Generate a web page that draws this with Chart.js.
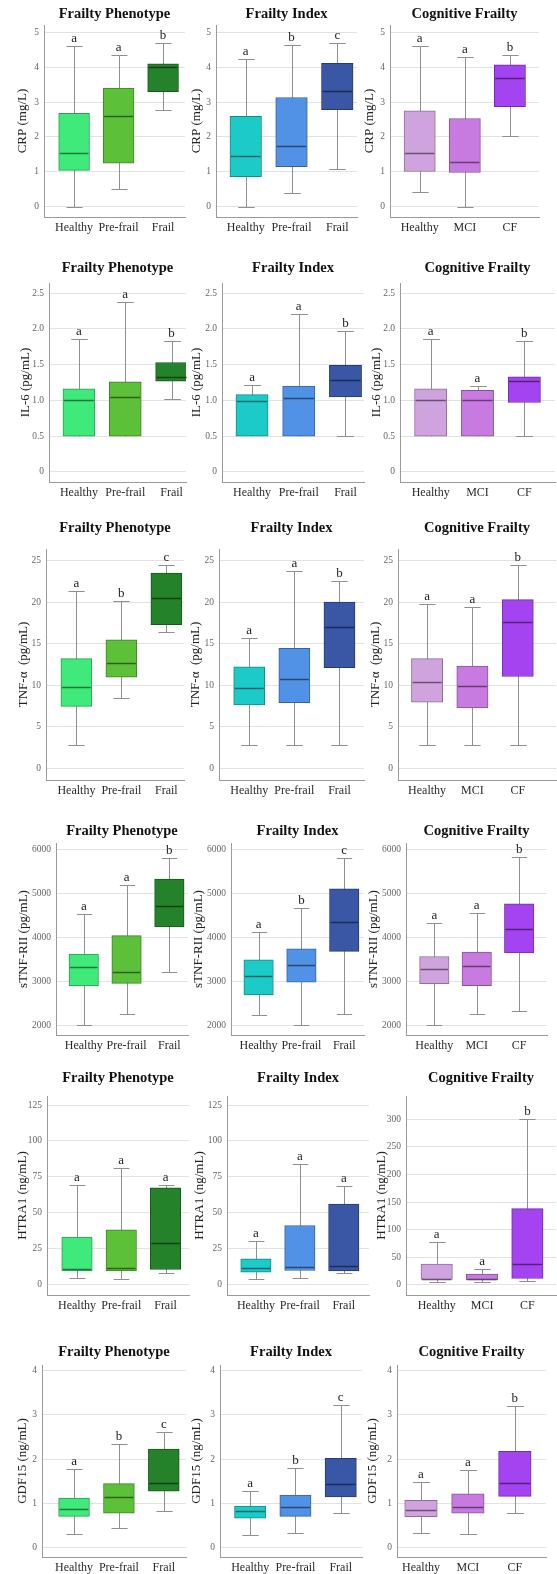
<!DOCTYPE html>
<html>
<head>
<meta charset="utf-8">
<script src="https://cdn.jsdelivr.net/npm/chart.js@4.4.1/dist/chart.umd.min.js"></script>
<style>
  html, body { margin: 0; padding: 0; background: #fff; }
  #page { position: relative; width: 557px; height: 1574px; overflow: hidden; }
  #page canvas { position: absolute; }
</style>
</head>
<body>
<div id="page"></div>
<script>
// categories and panel titles
const FP_CATS = ['Healthy', 'Pre-frail', 'Frail'];
const FI_CATS = ['Healthy', 'Pre-frail', 'Frail'];
const CF_CATS = ['Healthy', 'MCI', 'CF'];
const TITLES = ['Frailty Phenotype', 'Frailty Index', 'Cognitive Frailty'];

// box stats per group: [min, Q1, median, Q3, max]
const CRP_FP = [[0, 1.04, 1.54, 2.68, 4.62], [0.5, 1.25, 2.6, 3.4, 4.34], [2.77, 3.3, 4.0, 4.1, 4.69]];
const CRP_FI = [[0, 0.86, 1.44, 2.59, 4.24], [0.39, 1.15, 1.75, 3.13, 4.63], [1.08, 2.78, 3.32, 4.11, 4.7]];
const CRP_CF = [[0.41, 1.01, 1.54, 2.75, 4.62], [0, 0.98, 1.28, 2.53, 4.28], [2.02, 2.87, 3.7, 4.07, 4.34]];

const IL6_FP = [[0.5, 0.5, 1.0, 1.16, 1.86], [0.5, 0.5, 1.05, 1.26, 2.38], [1.02, 1.27, 1.33, 1.53, 1.83]];
const IL6_FI = [[0.5, 0.5, 0.985, 1.08, 1.22], [0.5, 0.5, 1.03, 1.2, 2.21], [0.5, 1.05, 1.29, 1.49, 1.97]];
const IL6_CF = [[0.5, 0.5, 1.0, 1.16, 1.86], [0.5, 0.5, 1.01, 1.14, 1.2], [0.5, 0.97, 1.27, 1.33, 1.83]];

const TNF_FP = [[2.81, 7.46, 9.83, 13.2, 21.3], [8.47, 10.96, 12.7, 15.45, 20.1], [16.4, 17.3, 20.5, 23.5, 24.5]];
const TNF_FI = [[2.81, 7.63, 9.64, 12.2, 15.7], [2.81, 7.9, 10.7, 14.45, 23.8], [2.81, 12.1, 16.95, 20.0, 22.5]];
const TNF_CF = [[2.82, 7.95, 10.4, 13.2, 19.8], [2.82, 7.26, 9.85, 12.3, 19.4], [2.82, 11.05, 17.6, 20.3, 24.45]];

const STNF_FP = [[2015, 2902, 3333, 3629, 4530], [2258, 2962, 3227, 4045, 5205], [3220, 4242, 4720, 5333, 5803]];
const STNF_FI = [[2243, 2700, 3125, 3498, 4129], [2015, 2989, 3384, 3749, 4677], [2259, 3688, 4357, 5110, 5817]];
const STNF_CF = [[2023, 2954, 3298, 3573, 4344], [2260, 2908, 3366, 3672, 4550], [2328, 3656, 4191, 4771, 5840]];

const HTRA_FP = [[4.7, 9.3, 10.7, 32.9, 69], [3.7, 9.3, 11, 38, 80.9], [7.9, 10.3, 28.5, 67.2, 69]];
const HTRA_FI = [[3.7, 8.4, 11.2, 17.7, 29.9], [4.7, 9.6, 11.7, 41, 83.7], [7.9, 9.3, 12.4, 56, 68.8]];
const HTRA_CF = [[4.9, 9.8, 11, 37.9, 78.2], [6, 9.2, 11, 19.6, 28.7], [7.3, 11.6, 38.5, 138, 301]];

const GDF_FP = [[0.3, 0.71, 0.88, 1.12, 1.77], [0.45, 0.78, 1.15, 1.45, 2.35], [0.84, 1.28, 1.47, 2.23, 2.61]];
const GDF_FI = [[0.29, 0.67, 0.82, 0.94, 1.29], [0.33, 0.71, 0.92, 1.19, 1.8], [0.78, 1.15, 1.43, 2.02, 3.22]];
const GDF_CF = [[0.34, 0.7, 0.86, 1.07, 1.49], [0.31, 0.78, 0.91, 1.22, 1.76], [0.79, 1.16, 1.47, 2.18, 3.2]];

// significance letters
const CRP_SIG = [['a', 'a', 'b'], ['a', 'b', 'c'], ['a', 'a', 'b']];
const IL6_SIG = [['a', 'a', 'b'], ['a', 'a', 'b'], ['a', 'a', 'b']];
const TNF_SIG = [['a', 'b', 'c'], ['a', 'a', 'b'], ['a', 'a', 'b']];
const STNF_SIG = [['a', 'a', 'b'], ['a', 'b', 'c'], ['a', 'a', 'b']];
const HTRA_SIG = [['a', 'a', 'a'], ['a', 'a', 'a'], ['a', 'a', 'b']];
const GDF_SIG = [['a', 'b', 'c'], ['a', 'b', 'c'], ['a', 'a', 'b']];

// tick values
const CRP_TICKS = [0, 1, 2, 3, 4, 5];
const IL6_TICKS = [0, 0.5, 1, 1.5, 2, 2.5];
const TNF_TICKS = [0, 5, 10, 15, 20, 25];
const STNF_TICKS = [2000, 3000, 4000, 5000, 6000];
const HTRA_TICKS = [0, 25, 50, 75, 100, 125];
const HTRA_CF_TICKS = [0, 50, 100, 150, 200, 250, 300];
const GDF_TICKS = [0, 1, 2, 3, 4];

// colours
const FP_COLORS = ['#3fe97a', '#5cc038', '#23822a'];
const FI_COLORS = ['#1ccbc8', '#5192e6', '#3a57a6'];
const CF_COLORS = ['#cfa3de', '#c77be0', '#a443f0'];

const plain = v => String(v);
const oneDec = v => (v === 0 ? '0' : v.toFixed(1));

const ROWS = [
  { label: 'CRP (mg/L)', sets: [CRP_FP, CRP_FI, CRP_CF], sig: CRP_SIG,
    ticks: [CRP_TICKS, CRP_TICKS, CRP_TICKS], fmt: plain,
    range: [[-0.295, 5.21], [-0.295, 5.21], [-0.295, 5.21]] },
  { label: 'IL-6 (pg/mL)', sets: [IL6_FP, IL6_FI, IL6_CF], sig: IL6_SIG,
    ticks: [IL6_TICKS, IL6_TICKS, IL6_TICKS], fmt: oneDec,
    range: [[-0.14, 2.64], [-0.14, 2.64], [-0.14, 2.64]] },
  { label: 'TNF-α  (pg/mL)', sets: [TNF_FP, TNF_FI, TNF_CF], sig: TNF_SIG,
    ticks: [TNF_TICKS, TNF_TICKS, TNF_TICKS], fmt: plain,
    range: [[-1.41, 26.4], [-1.41, 26.4], [-1.41, 26.4]] },
  { label: 'sTNF-RII (pg/mL)', sets: [STNF_FP, STNF_FI, STNF_CF], sig: STNF_SIG,
    ticks: [STNF_TICKS, STNF_TICKS, STNF_TICKS], fmt: plain,
    range: [[1788, 6152], [1788, 6152], [1788, 6152]] },
  { label: 'HTRA1 (ng/mL)', sets: [HTRA_FP, HTRA_FI, HTRA_CF], sig: HTRA_SIG,
    ticks: [HTRA_TICKS, HTRA_TICKS, HTRA_CF_TICKS], fmt: plain,
    range: [[-7.5, 131.3], [-7.5, 131.3], [-18.3, 342]] },
  { label: 'GDF15 (ng/mL)', sets: [GDF_FP, GDF_FI, GDF_CF], sig: GDF_SIG,
    ticks: [GDF_TICKS, GDF_TICKS, GDF_TICKS], fmt: plain,
    range: [[-0.21, 4.13], [-0.21, 4.13], [-0.21, 4.13]] }
];

// layout: [title centre y, plot top, plot bottom] per row
const ROW_Y = [
  [15, 25, 217],
  [269, 283, 482],
  [529, 549, 780],
  [832, 843, 1035],
  [1079, 1096, 1295],
  [1353, 1365, 1557]
];
// layout: [axis left, plot right, first centre, last centre, y-title offset] per panel
const PANEL_X = [
  [[43.5, 185, 73.7, 163, 20.5], [215.8, 356.7, 245.5, 337, 19.5], [389.5, 539, 419.3, 509.8, 19.5]],
  [[49.1, 186, 79, 171.6, 23.2], [221.6, 363.5, 251.6, 345, 24.5], [400.1, 554.8, 430.7, 524.2, 23.2]],
  [[46.2, 183.8, 76.5, 166.2, 22.7], [218.7, 363.5, 248.9, 339, 23.2], [398.3, 556, 427.3, 517.8, 22.1]],
  [[55.8, 187.5, 83.5, 168.9, 32.3], [231.2, 363.8, 258.7, 344.1, 32.3], [405.5, 547.4, 434, 519.4, 31.3]],
  [[46.9, 188.5, 76.8, 165.1, 23.8], [226.5, 368.9, 255.5, 343.6, 26.4], [405.5, 556, 436.3, 527.3, 24]],
  [[42.3, 185.7, 74.2, 163.6, 19.6], [219.5, 361.7, 249.7, 340.4, 22.4], [396.6, 546.3, 420.7, 515, 23.5]]
];

const GROUP_CATS = [FP_CATS, FI_CATS, CF_CATS];
const GROUP_COLORS = [FP_COLORS, FI_COLORS, CF_COLORS];

Chart.defaults.font.family = '"Liberation Serif", "Times New Roman", serif';

function shade(hex, f) {
  const n = parseInt(hex.slice(1), 16);
  const r = Math.round(((n >> 16) & 255) * f);
  const g = Math.round(((n >> 8) & 255) * f);
  const b = Math.round((n & 255) * f);
  return `rgb(${r},${g},${b})`;
}

// whiskers, medians and letters, placed through the chart scales
function boxExtras(stats, sig, colors, boxW) {
  return {
    id: 'boxExtras',
    beforeDatasetsDraw(chart) {
      const { ctx, scales: { x, y } } = chart;
      ctx.save();
      ctx.strokeStyle = '#8f8f8f';
      ctx.lineWidth = 1;
      stats.forEach((s, i) => {
        const cx = Math.round(x.getPixelForValue(i)) + 0.5;
        const lo = Math.round(y.getPixelForValue(s[0])) + 0.5;
        const hi = Math.round(y.getPixelForValue(s[4])) + 0.5;
        const cap = boxW * 0.26;
        ctx.beginPath();
        ctx.moveTo(cx, lo);
        ctx.lineTo(cx, hi);
        ctx.moveTo(cx - cap, hi);
        ctx.lineTo(cx + cap, hi);
        if (s[0] < s[1]) {
          ctx.moveTo(cx - cap, lo);
          ctx.lineTo(cx + cap, lo);
        }
        ctx.stroke();
      });
      ctx.restore();
    },
    afterDatasetsDraw(chart) {
      const { ctx, scales: { x, y } } = chart;
      ctx.save();
      stats.forEach((s, i) => {
        const cx = x.getPixelForValue(i);
        const my = Math.round(y.getPixelForValue(s[2])) + 0.5;
        ctx.strokeStyle = shade(colors[i], 0.5);
        ctx.lineWidth = 1.5;
        ctx.beginPath();
        ctx.moveTo(cx - boxW / 2 + 1, my);
        ctx.lineTo(cx + boxW / 2 - 1, my);
        ctx.stroke();

        ctx.fillStyle = '#222';
        ctx.font = '13px "Liberation Serif", "Times New Roman", serif';
        ctx.textAlign = 'center';
        ctx.textBaseline = 'alphabetic';
        ctx.fillText(sig[i], cx, y.getPixelForValue(s[4]) - 4);
      });
      ctx.restore();
    }
  };
}

const page = document.getElementById('page');

ROWS.forEach((row, r) => {
  const [titleY, top, bottom] = ROW_Y[r];
  row.sets.forEach((stats, c) => {
    const [left, right, c0, c2, tOff] = PANEL_X[r][c];
    const cats = GROUP_CATS[c];
    const colors = GROUP_COLORS[c];
    const tickVals = row.ticks[c];
    const [yMin, yMax] = row.range[c];

    const sp = (c2 - c0) / 2;
    const xMin = -(c0 - left) / sp;
    const xMax = 2 + (right - c2) / sp;
    const boxW = sp * 0.69;

    const cLeft = Math.round(left - tOff - 7.8);
    const yAxisW = Math.round(left) - cLeft;
    const cW = Math.round(right) - cLeft + 2;
    const cTop = Math.round(titleY - 8.7);
    const titlePad = top - cTop - 17.4;
    const xAxisH = 22;
    const cH = bottom - cTop + xAxisH;

    const canvas = document.createElement('canvas');
    canvas.width = cW;
    canvas.height = cH;
    canvas.style.left = cLeft + 'px';
    canvas.style.top = cTop + 'px';
    canvas.style.width = cW + 'px';
    canvas.style.height = cH + 'px';
    page.appendChild(canvas);

    new Chart(canvas, {
      type: 'bar',
      data: {
        datasets: [{
          data: stats.map((s, i) => ({ x: i, y: [s[1], s[3]] })),
          backgroundColor: colors,
          borderColor: colors.map(col => shade(col, 0.68)),
          borderWidth: 1,
          borderSkipped: false,
          barThickness: boxW,
          grouped: false
        }]
      },
      options: {
        responsive: false,
        animation: false,
        events: [],
        layout: { padding: { left: 0, right: 2, top: 0, bottom: 0 } },
        plugins: {
          legend: { display: false },
          tooltip: { enabled: false },
          title: {
            display: true,
            text: TITLES[c],
            fullSize: false,
            color: '#111',
            font: { size: 14.5, weight: 'bold', lineHeight: 1.2 },
            padding: { top: 0, bottom: titlePad }
          }
        },
        scales: {
          x: {
            type: 'linear',
            min: xMin,
            max: xMax,
            offset: false,
            grid: { display: false, offset: false, drawTicks: false, tickLength: 0 },
            border: { display: true, color: '#9a9a9a', width: 1 },
            afterBuildTicks: axis => { axis.ticks = cats.map((_, i) => ({ value: i })); },
            afterFit: axis => { axis.height = xAxisH; },
            ticks: {
              autoSkip: false,
              maxRotation: 0,
              padding: 4,
              color: '#2a2a2a',
              font: { size: 12 },
              callback: (v, i) => cats[i]
            }
          },
          y: {
            min: yMin,
            max: yMax,
            grid: { color: '#e2e2e2', lineWidth: 1, drawTicks: false },
            border: { display: true, color: '#9a9a9a', width: 1 },
            afterBuildTicks: axis => { axis.ticks = tickVals.map(v => ({ value: v })); },
            afterFit: axis => { axis.width = yAxisW; },
            ticks: {
              padding: 5,
              color: '#666',
              font: { size: 9.5 },
              callback: v => row.fmt(v)
            },
            title: {
              display: true,
              text: row.label,
              color: '#222',
              font: { size: 13 },
              padding: { top: 0, bottom: 0 }
            }
          }
        }
      },
      plugins: [boxExtras(stats, row.sig[c], colors, boxW)]
    });
  });
});
</script>
</body>
</html>
